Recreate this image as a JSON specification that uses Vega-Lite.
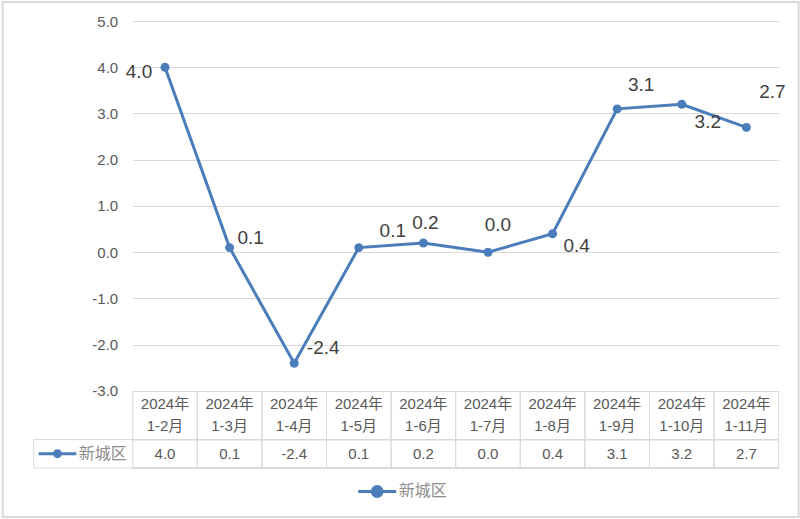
{
  "$schema": "https://vega.github.io/schema/vega-lite/v6.json",
  "autosize": {"type": "pad"},
  "padding": {"left": 1.7, "top": 1, "right": 1, "bottom": 1},
  "background": "white",
  "bounds": "flush",
  "spacing": 0,
  "datasets": {
    "series": [
      {"period": "2024年\n1-2月", "value": 4.0, "series": "新城区"},
      {"period": "2024年\n1-3月", "value": 0.1, "series": "新城区"},
      {"period": "2024年\n1-4月", "value": -2.4, "series": "新城区"},
      {"period": "2024年\n1-5月", "value": 0.1, "series": "新城区"},
      {"period": "2024年\n1-6月", "value": 0.2, "series": "新城区"},
      {"period": "2024年\n1-7月", "value": 0.0, "series": "新城区"},
      {"period": "2024年\n1-8月", "value": 0.4, "series": "新城区"},
      {"period": "2024年\n1-9月", "value": 3.1, "series": "新城区"},
      {"period": "2024年\n1-10月", "value": 3.2, "series": "新城区"},
      {"period": "2024年\n1-11月", "value": 2.7, "series": "新城区"}
    ]
  },
  "resolve": {"scale": {"x": "independent", "y": "independent", "color": "independent"}},
  "hconcat": [
    {
      "width": 99,
      "height": 447,
      "data": {"name": "series"},
      "transform": [{"aggregate": [{"op": "count", "as": "n"}], "groupby": ["series"]}],
      "layer": [
        {
          "mark": {"type": "rect", "fill": null, "stroke": "#d9d9d9", "strokeWidth": 2},
          "encoding": {
            "x": {"datum": -0.3131, "type": "quantitative", "scale": {"domain": [0, 1], "nice": false, "zero": false}, "axis": null},
            "x2": {"datum": 7.7273},
            "y": {"datum": 5.4108, "type": "quantitative", "scale": {"domain": [-4.665, 5], "nice": false, "zero": false}, "axis": null},
            "y2": {"datum": -5.7243}
          }
        },
        {
          "mark": {"type": "rule", "color": "#d9d9d9", "strokeWidth": 1},
          "encoding": {"y": {"datum": -4.05, "type": "quantitative"}}
        },
        {
          "mark": {"type": "rule", "color": "#d9d9d9", "strokeWidth": 1},
          "encoding": {"y": {"datum": -4.665, "type": "quantitative"}}
        },
        {
          "mark": {"type": "rule", "color": "#d9d9d9", "strokeWidth": 1},
          "encoding": {
            "x": {"datum": 0, "type": "quantitative"},
            "y": {"datum": -4.05, "type": "quantitative"},
            "y2": {"datum": -4.665}
          }
        },
        {
          "mark": {"type": "rule", "color": "#4a7dba", "strokeWidth": 3},
          "encoding": {
            "x": {"datum": 0.05, "type": "quantitative"},
            "x2": {"datum": 0.43},
            "y": {"datum": -4.355, "type": "quantitative"}
          }
        },
        {
          "mark": {"type": "point", "filled": true, "opacity": 1, "color": "#4a7dba", "size": 80},
          "encoding": {
            "x": {"datum": 0.24, "type": "quantitative"},
            "y": {"datum": -4.355, "type": "quantitative"}
          }
        },
        {
          "mark": {"type": "text", "align": "left", "baseline": "middle", "fontSize": 16, "color": "#8c8c8c", "font": "Noto Sans CJK SC"},
          "encoding": {
            "x": {"datum": 0.455, "type": "quantitative"},
            "y": {"datum": -4.355, "type": "quantitative"},
            "text": {"field": "series"}
          }
        }
      ]
    },
    {
      "width": 646,
      "height": 447,
      "data": {"name": "series"},
      "layer": [
        {
          "mark": {"type": "rule", "color": "#d9d9d9", "strokeWidth": 1},
          "encoding": {
            "y": {
              "datum": -4.05,
              "type": "quantitative",
              "scale": {"domain": [-4.665, 5], "nice": false, "zero": false},
              "axis": {
                "values": [-3, -2, -1, 0, 1, 2, 3, 4, 5],
                "format": ".1f",
                "grid": true,
                "gridColor": "#d9d9d9",
                "gridWidth": 1,
                "domain": false,
                "ticks": false,
                "labelPadding": 15,
                "labelFontSize": 15,
                "labelColor": "#595959",
                "labelFont": "Liberation Sans",
                "title": null
              }
            }
          }
        },
        {
          "mark": {"type": "rule", "color": "#d9d9d9", "strokeWidth": 1},
          "encoding": {"y": {"datum": -4.665, "type": "quantitative"}}
        },
        {
          "mark": {"type": "rule", "color": "#d9d9d9", "strokeWidth": 1},
          "encoding": {
            "x": {"field": "period", "type": "nominal", "sort": null, "bandPosition": 0, "scale": {"type": "band", "paddingInner": 0, "paddingOuter": 0}, "axis": null},
            "y": {"datum": -3, "type": "quantitative"},
            "y2": {"datum": -4.665}
          }
        },
        {
          "mark": {"type": "rule", "color": "#d9d9d9", "strokeWidth": 1},
          "encoding": {
            "x": {"field": "period", "type": "nominal", "sort": null, "bandPosition": 1},
            "y": {"datum": -3, "type": "quantitative"},
            "y2": {"datum": -4.665}
          }
        },
        {
          "mark": {"type": "text", "align": "center", "baseline": "middle", "fontSize": 15, "lineHeight": 22, "lineBreak": "\n", "color": "#595959", "font": "Liberation Sans, Noto Sans CJK SC"},
          "encoding": {
            "x": {"field": "period", "type": "nominal", "sort": null},
            "y": {"datum": -3.28, "type": "quantitative"},
            "text": {"field": "period"}
          }
        },
        {
          "mark": {"type": "text", "align": "center", "baseline": "middle", "fontSize": 15, "color": "#595959", "font": "Liberation Sans"},
          "encoding": {
            "x": {"field": "period", "type": "nominal", "sort": null},
            "y": {"datum": -4.355, "type": "quantitative"},
            "text": {"field": "value", "type": "quantitative", "format": ".1f"}
          }
        },
        {
          "mark": {"type": "line", "strokeWidth": 3},
          "encoding": {
            "x": {"field": "period", "type": "nominal", "sort": null},
            "y": {"field": "value", "type": "quantitative"},
            "color": {
              "field": "series",
              "type": "nominal",
              "scale": {"range": ["#4a7dba"]},
              "legend": {
                "orient": "none",
                "legendX": 224,
                "legendY": 450,
                "title": null,
                "padding": 0,
                "symbolType": "M-1,0H1M0.26,0A0.26,0.26,0,1,1,-0.26,0A0.26,0.26,0,1,1,0.26,0Z",
                "symbolSize": 1444,
                "symbolStrokeWidth": 3,
                "symbolStrokeColor": "#4a7dba",
                "symbolFillColor": "#4a7dba",
                "labelFontSize": 16,
                "labelColor": "#8c8c8c",
                "labelFont": "Noto Sans CJK SC",
                "labelOffset": 1
              }
            }
          }
        },
        {
          "mark": {"type": "point", "filled": true, "opacity": 1, "size": 80, "color": "#4a7dba"},
          "encoding": {
            "x": {"field": "period", "type": "nominal", "sort": null},
            "y": {"field": "value", "type": "quantitative"}
          }
        },
        {
          "encoding": {
            "x": {"field": "period", "type": "nominal", "sort": null},
            "y": {"field": "value", "type": "quantitative"},
            "text": {"field": "value", "type": "quantitative", "format": ".1f"}
          },
          "layer": [
            {"transform": [{"filter": {"field": "period", "equal": "2024年\n1-2月"}}], "mark": {"type": "text", "dx": -26, "dy": 5, "fontSize": 19, "color": "#404040", "font": "Liberation Sans", "baseline": "middle"}},
            {"transform": [{"filter": {"field": "period", "equal": "2024年\n1-3月"}}], "mark": {"type": "text", "dx": 21, "dy": -10, "fontSize": 19, "color": "#404040", "font": "Liberation Sans", "baseline": "middle"}},
            {"transform": [{"filter": {"field": "period", "equal": "2024年\n1-4月"}}], "mark": {"type": "text", "dx": 29, "dy": -15, "fontSize": 19, "color": "#404040", "font": "Liberation Sans", "baseline": "middle"}},
            {"transform": [{"filter": {"field": "period", "equal": "2024年\n1-5月"}}], "mark": {"type": "text", "dx": 34, "dy": -17, "fontSize": 19, "color": "#404040", "font": "Liberation Sans", "baseline": "middle"}},
            {"transform": [{"filter": {"field": "period", "equal": "2024年\n1-6月"}}], "mark": {"type": "text", "dx": 2, "dy": -20, "fontSize": 19, "color": "#404040", "font": "Liberation Sans", "baseline": "middle"}},
            {"transform": [{"filter": {"field": "period", "equal": "2024年\n1-7月"}}], "mark": {"type": "text", "dx": 10, "dy": -27, "fontSize": 19, "color": "#404040", "font": "Liberation Sans", "baseline": "middle"}},
            {"transform": [{"filter": {"field": "period", "equal": "2024年\n1-8月"}}], "mark": {"type": "text", "dx": 24, "dy": 12, "fontSize": 19, "color": "#404040", "font": "Liberation Sans", "baseline": "middle"}},
            {"transform": [{"filter": {"field": "period", "equal": "2024年\n1-9月"}}], "mark": {"type": "text", "dx": 24, "dy": -24, "fontSize": 19, "color": "#404040", "font": "Liberation Sans", "baseline": "middle"}},
            {"transform": [{"filter": {"field": "period", "equal": "2024年\n1-10月"}}], "mark": {"type": "text", "dx": 26, "dy": 18, "fontSize": 19, "color": "#404040", "font": "Liberation Sans", "baseline": "middle"}},
            {"transform": [{"filter": {"field": "period", "equal": "2024年\n1-11月"}}], "mark": {"type": "text", "dx": 26, "dy": -35, "fontSize": 19, "color": "#404040", "font": "Liberation Sans", "baseline": "middle"}}
          ]
        }
      ]
    }
  ],
  "config": {
    "view": {"stroke": null},
    "locale": {"number": {"decimal": ".", "thousands": ",", "grouping": [3], "currency": ["", ""], "minus": "-"}}
  }
}
